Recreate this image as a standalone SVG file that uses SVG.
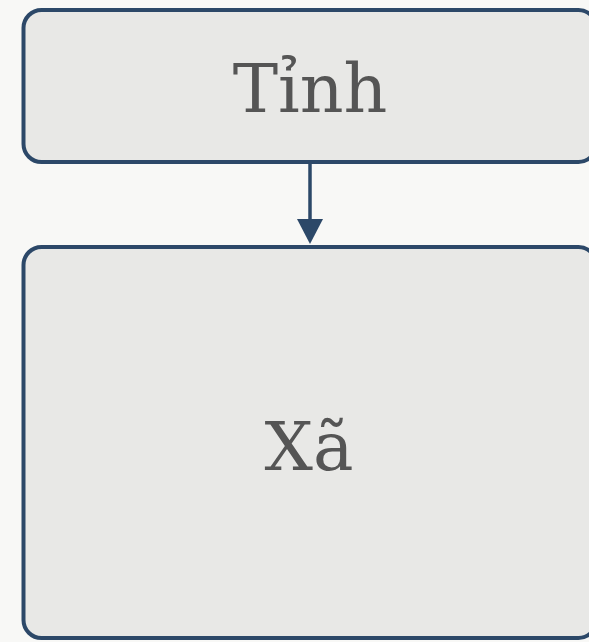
<svg xmlns="http://www.w3.org/2000/svg" width="589" height="642" viewBox="0 0 589 642">
  <style>
    .box { fill: #e8e8e6; stroke: #2c4868; stroke-width: 4; }
    .lbl { font-family: "DejaVu Serif", "Liberation Serif", serif; font-size: 68px; fill: #555555; text-anchor: middle; }
    .edge { stroke: #2c4868; stroke-width: 3.5; fill: none; }
  </style>
  <rect width="589" height="642" fill="#f8f8f6"/>
  <g id="edges">
    <line class="edge" x1="310" y1="163" x2="310" y2="222"/>
    <polygon points="297,219 323,219 310,244" fill="#2c4868"/>
  </g>
  <g id="tinh">
    <rect class="box" x="23.5" y="10" width="573" height="152" rx="18" ry="18"/>
    <text class="lbl" x="310" y="112">Tỉnh</text>
  </g>
  <g id="xa">
    <rect class="box" x="23.5" y="247" width="573" height="391" rx="18" ry="18"/>
    <text class="lbl" x="309" y="470">Xã</text>
  </g>
</svg>
